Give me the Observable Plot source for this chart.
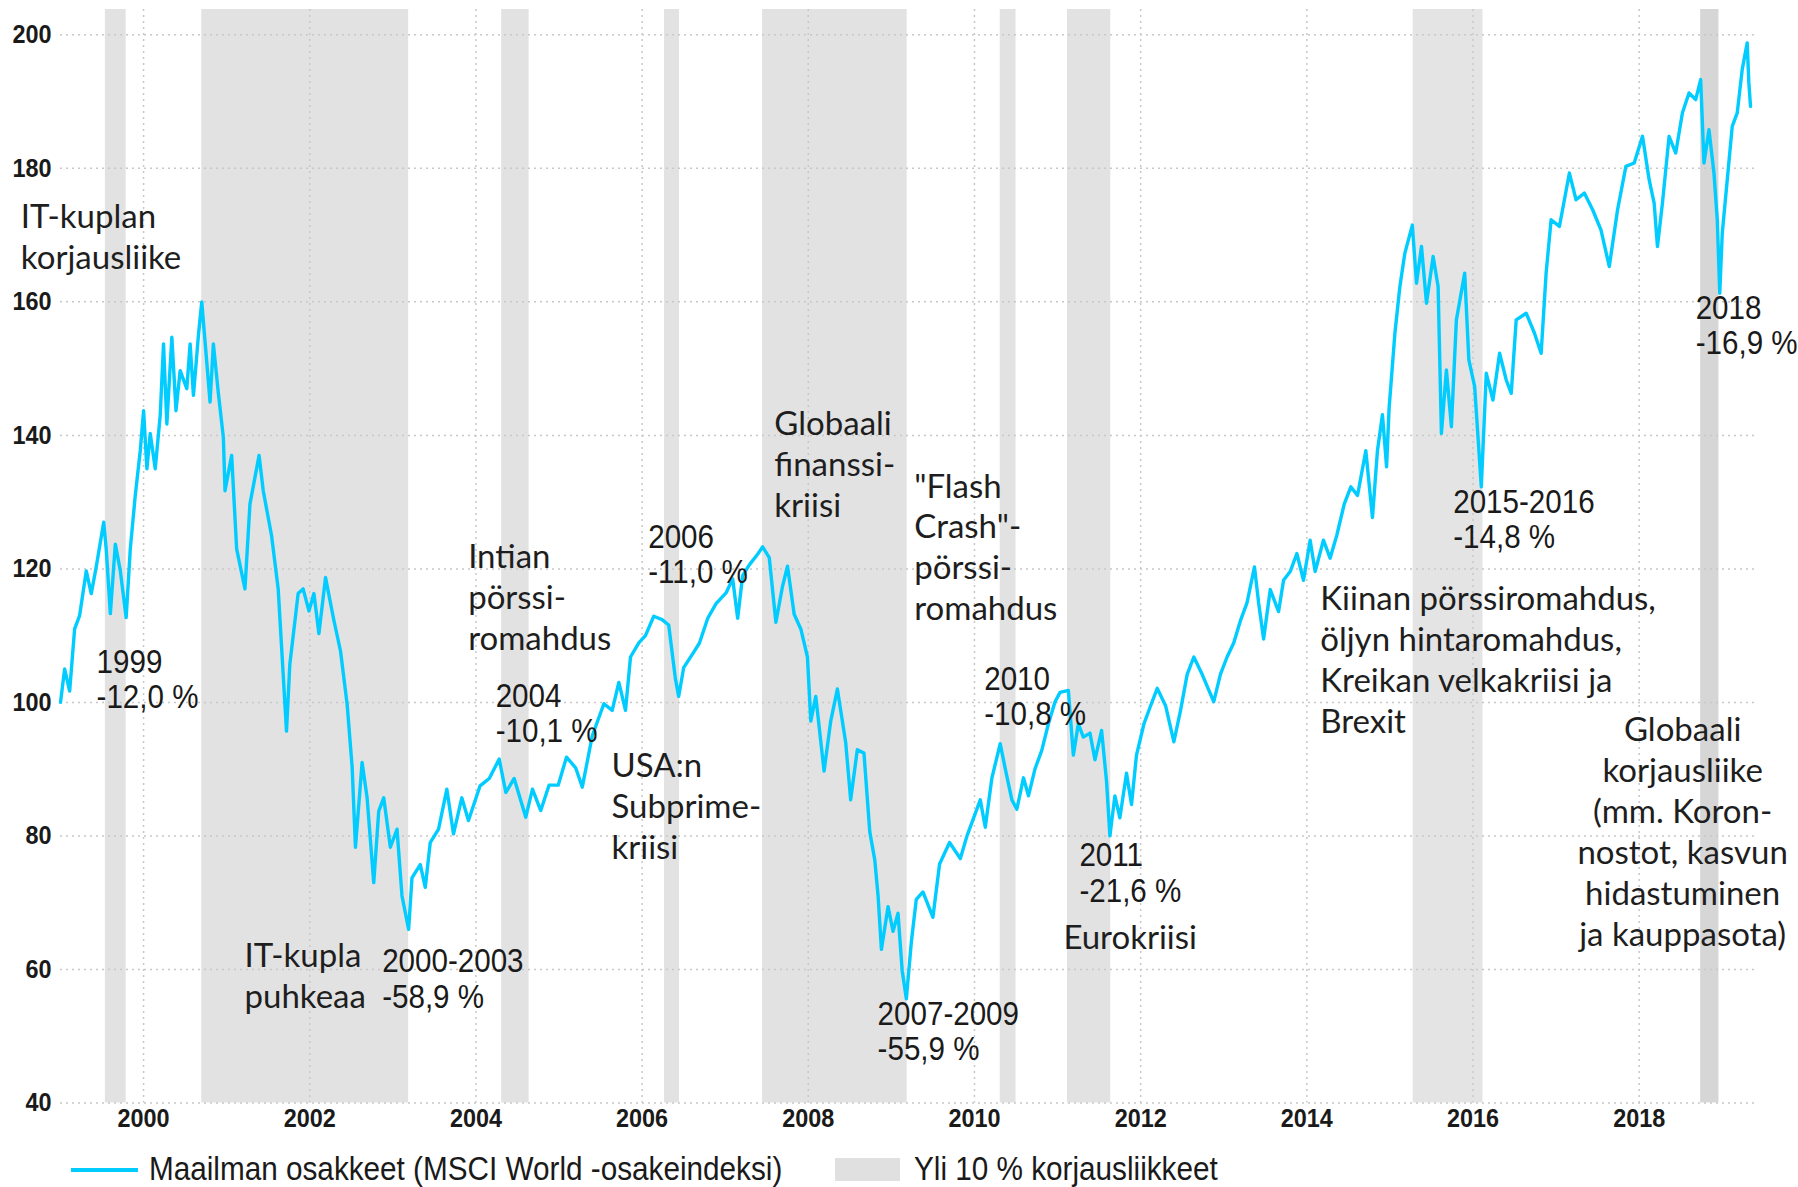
<!DOCTYPE html>
<html>
<head>
<meta charset="utf-8">
<script src="https://cdn.jsdelivr.net/npm/d3@7"></script>
<script src="https://cdn.jsdelivr.net/npm/@observablehq/plot@0.6"></script>
<style>
  html, body { margin: 0; padding: 0; background: #fff; }
  #wrap { position: relative; width: 1798px; height: 1187px; overflow: hidden; }
  #chart svg { display: block; }
  #legend { position: absolute; left: 0; top: 1145px; width: 1798px; height: 42px;
    font-family: "Liberation Sans", Arial, sans-serif; font-size: 33px; color: #1a1a1a; }
  .sw-line { position: absolute; left: 71px; top: 23px; width: 67px; height: 4px; background: #00ccff; }
  .sw-box { position: absolute; left: 835px; top: 13px; width: 65px; height: 23px; background: #e0e0e0; }
  .lab { position: absolute; top: 7px; height: 34px; line-height: 34px; white-space: nowrap;
    transform: scaleX(0.9); transform-origin: 0 50%; }
  .lab1 { left: 149px; }
  .lab2 { left: 914px; }
</style>
</head>
<body>
<div id="wrap">
  <div id="chart"></div>
  <div id="legend">
    <div class="sw-line"></div><div class="lab lab1">Maailman osakkeet (MSCI World -osakeindeksi)</div>
    <div class="sw-box"></div><div class="lab lab2">Yli 10 % korjausliikkeet</div>
  </div>
</div>
<script>
// ---- Data: MSCI World index (start = 100) ----
const years = [
  1999.00,1999.05,1999.11,1999.17,1999.23,1999.31,1999.37,1999.43,1999.52,1999.55,1999.60,1999.66,1999.72,1999.79,1999.84,1999.90,1999.96,
  2000.00,2000.04,2000.08,2000.14,2000.20,2000.24,2000.28,2000.34,2000.39,2000.44,2000.52,2000.56,2000.60,2000.66,2000.70,2000.76,2000.80,2000.84,2000.90,2000.96,2000.98,
  2001.06,2001.12,2001.22,2001.28,2001.39,2001.44,2001.54,2001.62,2001.72,2001.76,2001.86,2001.92,2001.99,
  2002.05,2002.11,2002.19,2002.29,2002.37,2002.45,2002.51,2002.55,2002.63,2002.69,2002.77,2002.83,2002.89,2002.97,
  2003.05,2003.11,2003.19,2003.23,2003.33,2003.39,2003.45,2003.55,2003.65,2003.73,2003.83,2003.91,
  2004.05,2004.16,2004.28,2004.36,2004.46,2004.60,2004.68,2004.78,2004.88,2004.99,
  2005.09,2005.20,2005.28,2005.40,2005.54,2005.64,2005.72,2005.80,2005.86,2005.96,
  2006.04,2006.14,2006.24,2006.32,2006.40,2006.44,2006.50,2006.61,2006.69,2006.79,2006.89,
  2007.01,2007.09,2007.15,2007.21,2007.29,2007.39,2007.45,2007.53,2007.61,2007.69,2007.75,2007.83,2007.91,2007.99,
  2008.03,2008.09,2008.19,2008.27,2008.35,2008.45,2008.51,2008.59,2008.67,2008.74,2008.80,2008.84,2008.88,2008.96,
  2009.02,2009.08,2009.13,2009.18,2009.24,2009.30,2009.38,2009.50,2009.58,2009.70,2009.83,2009.91,2009.99,
  2010.07,2010.13,2010.21,2010.31,2010.37,2010.45,2010.51,2010.59,2010.65,2010.73,2010.81,2010.89,2010.97,
  2011.03,2011.13,2011.19,2011.25,2011.31,2011.39,2011.45,2011.53,2011.59,2011.63,2011.69,2011.75,2011.83,2011.89,2011.95,
  2012.04,2012.12,2012.20,2012.30,2012.40,2012.48,2012.56,2012.64,2012.74,2012.88,2012.96,
  2013.04,2013.12,2013.20,2013.28,2013.37,2013.42,2013.48,2013.56,2013.66,2013.72,2013.80,2013.88,2013.96,
  2014.04,2014.10,2014.20,2014.28,2014.36,2014.45,2014.53,2014.61,2014.71,2014.79,2014.85,2014.91,2014.96,2014.99,
  2015.06,2015.12,2015.18,2015.27,2015.32,2015.38,2015.44,2015.52,2015.58,2015.62,2015.68,2015.74,2015.80,2015.90,2015.95,
  2016.02,2016.10,2016.16,2016.24,2016.32,2016.40,2016.46,2016.52,2016.64,2016.74,2016.82,2016.88,2016.94,
  2017.04,2017.16,2017.24,2017.34,2017.44,2017.54,2017.64,2017.74,2017.84,2017.94,
  2018.04,2018.12,2018.18,2018.22,2018.28,2018.36,2018.44,2018.52,2018.60,2018.68,2018.74,2018.78,2018.84,2018.90,2018.94,2018.97,
  2019.00,2019.06,2019.12,2019.18,2019.24,2019.30,2019.32,2019.34
];
const values = [
  100.0,105.0,101.7,111.0,113.0,119.7,116.3,120.3,127.0,123.0,113.3,123.7,119.7,112.7,123.0,131.0,137.7,
  143.7,135.0,140.3,135.0,143.0,153.7,141.7,154.7,143.7,149.7,147.0,153.7,146.0,155.0,160.0,151.0,145.0,153.7,146.3,139.7,131.7,
  137.0,123.0,117.0,129.7,137.0,131.7,125.0,117.0,95.7,105.7,116.3,117.0,113.7,
  116.3,110.3,118.7,112.3,107.7,99.7,90.3,78.3,91.0,85.7,73.0,83.7,85.7,78.3,
  81.0,71.0,66.0,73.7,75.7,72.3,79.0,81.0,87.0,80.3,85.7,82.3,
  87.5,88.6,91.5,86.5,88.6,82.8,87.0,83.8,87.6,87.6,
  91.8,90.2,87.3,95.0,99.8,98.8,103.0,98.8,106.8,108.9,
  110.0,112.9,112.4,111.6,103.6,100.9,105.2,107.3,108.9,112.6,114.8,
  116.4,118.5,112.6,119.0,120.6,122.2,123.3,121.7,112.0,117.4,120.4,113.2,111.0,106.8,
  97.2,100.9,89.7,97.2,102.0,94.0,85.4,92.9,92.4,80.6,76.4,71.0,63.0,69.4,
  65.7,68.4,59.8,55.6,64.1,70.5,71.6,67.8,75.8,79.0,76.6,80.0,82.7,
  85.4,81.3,88.7,93.8,90.1,85.4,84.0,88.7,86.0,90.1,92.8,96.8,100.1,
  101.5,101.8,92.1,96.8,94.8,95.4,91.4,95.8,88.1,80.0,86.0,82.7,89.4,84.7,92.1,
  96.8,99.5,102.1,99.5,94.1,98.8,104.2,106.8,104.2,100.1,104.2,
  106.8,108.9,112.2,114.9,120.3,114.9,109.5,116.9,113.6,118.3,119.6,122.3,118.3,
  124.3,119.6,124.3,121.6,125.0,129.7,132.3,131.0,137.7,127.7,137.7,143.1,135.3,144.0,
  155.3,162.3,167.3,171.5,162.8,168.3,159.8,166.8,162.3,140.3,149.8,141.3,157.3,164.3,151.3,
  147.3,132.3,149.3,145.3,152.3,148.3,146.3,157.3,158.3,155.3,152.3,164.3,172.3,
  171.3,179.3,175.3,176.3,173.8,170.8,165.3,173.8,180.3,180.8,
  184.8,178.3,174.8,168.3,174.8,184.8,182.3,188.3,191.3,190.3,193.3,180.8,185.8,179.3,172.3,161.3,
  170.3,178.3,186.3,188.3,194.8,198.8,192.8,189.3
];

// Corrections over 10 % (grey bands)
const bandStart = [1999.54, 2000.70, 2004.31, 2006.27, 2007.45, 2010.31, 2011.12, 2015.28, 2018.74];
const bandEnd   = [1999.79, 2003.19, 2004.64, 2006.45, 2009.19, 2010.50, 2011.64, 2016.12, 2018.96];
const bandShade = ["#e2e2e2","#e2e2e2","#e2e2e2","#e2e2e2","#e2e2e2","#e2e2e2","#e2e2e2","#e4e4e4","#d6d6d6"];

// Axis ticks
const xTicks = [2000, 2002, 2004, 2006, 2008, 2010, 2012, 2014, 2016, 2018];
const yTicks = [40, 60, 80, 100, 120, 140, 160, 180, 200];

// Event annotations
const eventText = [
  "IT-kuplan\nkorjausliike",
  "IT-kupla\npuhkeaa",
  "Intian\npörssi-\nromahdus",
  "USA:n\nSubprime-\nkriisi",
  "Globaali\nfinanssi-\nkriisi",
  "\"Flash\nCrash\"-\npörssi-\nromahdus",
  "Eurokriisi",
  "Kiinan pörssiromahdus,\nöljyn hintaromahdus,\nKreikan velkakriisi ja\nBrexit"
];
const eventYear  = [1998.523, 2001.215, 2003.906, 2005.631, 2007.591, 2009.275, 2011.07, 2014.161];
const eventValue = [169.9, 59.2, 116.0, 84.6, 135.9, 123.45, 64.95, 106.6];

const centerText  = ["Globaali\nkorjausliike\n(mm. Koron-\nnostot, kasvun\nhidastuminen\nja kauppasota)"];
const centerYear  = [2018.523];
const centerValue = [80.84];

// Drawdown labels
const dropText = [
  "1999\n-12,0 %", "2000-2003\n-58,9 %", "2004\n-10,1 %", "2006\n-11,0 %", "2007-2009\n-55,9 %",
  "2010\n-10,8 %", "2011\n-21,6 %", "2015-2016\n-14,8 %", "2018\n-16,9 %"
];
const dropYear  = [1999.434, 2002.871, 2004.237, 2006.073, 2008.834, 2010.117, 2011.263, 2015.762, 2018.68];
const dropValue = [103.44, 58.59, 98.37, 122.25, 50.78, 100.95, 74.49, 127.41, 156.53];

// ---- Build ----
const series = years.map((x, i) => ({x, y: values[i]}));
const bands = bandStart.map((s, i) => ({x1: s, x2: bandEnd[i], fill: bandShade[i]}));
const events = eventText.map((t, i) => ({t, x: eventYear[i], y: eventValue[i]}));
const centers = centerText.map((t, i) => ({t, x: centerYear[i], y: centerValue[i]}));
const drops = dropText.map((t, i) => ({t, x: dropYear[i], y: dropValue[i]}));

const humanist = "Lato, 'Open Sans', sans-serif";
const arial = "'Liberation Sans', Arial, sans-serif";

const chart = Plot.plot({
  width: 1798,
  height: 1145,
  marginLeft: 60,
  marginRight: 43,
  marginTop: 9,
  marginBottom: 42.6,
  style: {fontFamily: arial, fontSize: "26px", fontWeight: "bold", color: "#1a1a1a", background: "#fff"},
  x: {domain: [1999.0, 2019.4], ticks: xTicks, tickFormat: d => String(d), tickSize: 0, tickPadding: 6, label: null},
  y: {domain: [40, 203.8], ticks: yTicks, tickSize: 0, tickPadding: 9, label: null},
  marks: [
    Plot.rect(bands, {x1: "x1", x2: "x2", fill: "fill"}),
    Plot.ruleY(yTicks, {stroke: "#c8c8c8", strokeWidth: 1.5, strokeDasharray: "2,4"}),
    Plot.ruleX(xTicks, {stroke: "#c8c8c8", strokeWidth: 1.5, strokeDasharray: "2,4"}),
    Plot.line(series, {x: "x", y: "y", stroke: "#00ccff", strokeWidth: 3.4, strokeLinejoin: "round"}),
    Plot.text(events, {x: "x", y: "y", text: "t", textAnchor: "start", lineAnchor: "middle", lineHeight: 1.24,
      fontFamily: humanist, fontSize: 33, fontWeight: "normal", fill: "#1e1e1e"}),
    Plot.text(centers, {x: "x", y: "y", text: "t", textAnchor: "middle", lineAnchor: "middle", lineHeight: 1.24,
      fontFamily: humanist, fontSize: 33, fontWeight: "normal", fill: "#1e1e1e"}),
    Plot.text(drops, {x: "x", y: "y", text: "t", textAnchor: "start", lineAnchor: "middle", lineHeight: 1.04,
      fontFamily: arial, fontSize: 34, fontWeight: "normal", fill: "#1a1a1a", className: "drops"})
  ]
});

// Condense Arial-metric text horizontally (Arial Narrow look)
function condense(el, s) {
  const t = el.getAttribute("transform");
  if (t) { el.setAttribute("transform", t + ` scale(${s},1)`); return; }
  const x = +el.getAttribute("x") || 0;
  el.setAttribute("transform", `translate(${x},0) scale(${s},1)`);
  if (el.hasAttribute("x")) el.setAttribute("x", 0);
  el.querySelectorAll("tspan[x]").forEach(ts => ts.setAttribute("x", (+ts.getAttribute("x") || 0) - x));
}
let dropTexts = chart.querySelectorAll("g.drops text");
if (!dropTexts.length) {
  const groups = chart.querySelectorAll('g[aria-label="text"]');
  dropTexts = groups[groups.length - 1].querySelectorAll("text");
}
dropTexts.forEach(el => condense(el, 0.87));
chart.querySelectorAll('[aria-label^="x-axis"] text, [aria-label^="y-axis"] text').forEach(el => condense(el, 0.9));

document.getElementById("chart").appendChild(chart);
</script>
</body>
</html>
